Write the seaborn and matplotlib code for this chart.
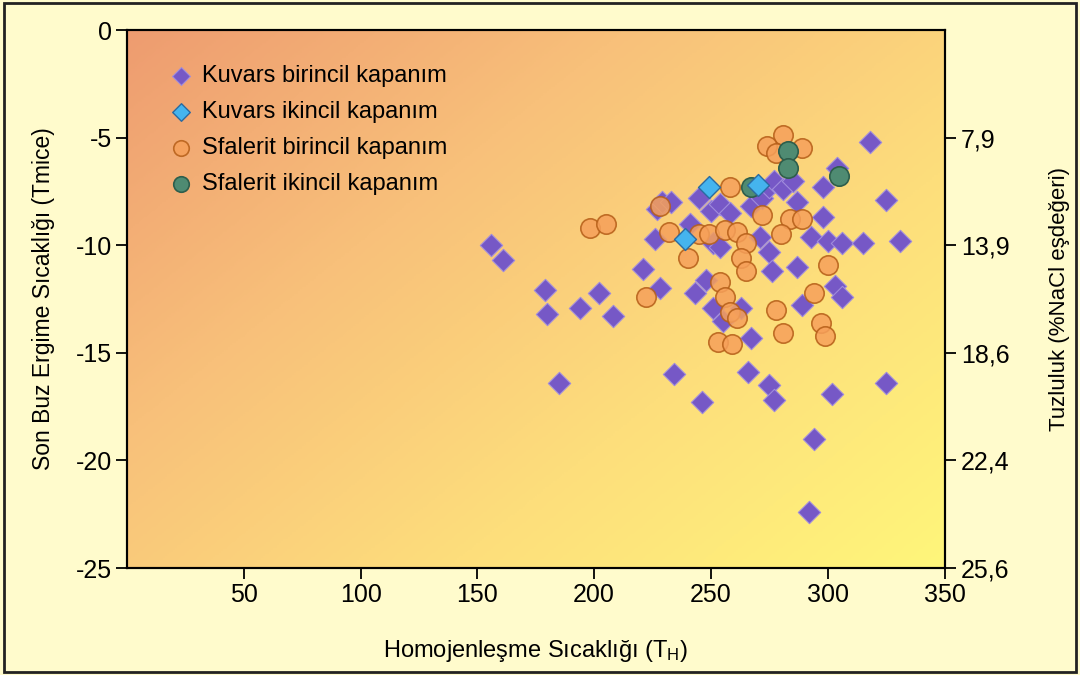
import matplotlib
matplotlib.use('Agg')
import matplotlib.pyplot as plt
import numpy as np
import pandas as pd
import seaborn as sns
from matplotlib.colors import LinearSegmentedColormap
from matplotlib.patches import Rectangle

# --- veriler ---
# Kuvars birincil kapanim
kb_th = [156, 161, 179, 180, 194, 202, 208, 185, 221, 226,
         227, 229, 233, 241, 245, 250, 254, 258, 251, 254,
         267, 272, 275, 271, 275, 276, 248, 228, 243, 251,
         255, 263, 267, 234, 266, 275, 246, 277, 318, 304,
         298, 325, 277, 281, 285, 287, 298, 293, 300, 306,
         315, 331, 287, 303, 306, 289, 302, 325, 294, 292]
kb_tm = [-10.0, -10.7, -12.1, -13.2, -12.9, -12.2, -13.3, -16.4, -11.1, -9.7,
         -8.3, -8.0, -8.0, -9.0, -7.8, -8.4, -8.1, -8.5, -9.9, -10.1,
         -8.2, -7.8, -7.3, -9.6, -10.3, -11.2, -11.6, -12.0, -12.2, -12.9,
         -13.5, -12.9, -14.3, -16.0, -15.9, -16.5, -17.3, -17.2, -5.2, -6.4,
         -7.3, -7.9, -7.0, -7.4, -7.0, -8.0, -8.7, -9.6, -9.8, -9.9,
         -9.9, -9.8, -11.0, -11.9, -12.4, -12.8, -16.9, -16.4, -19.0, -22.4]

# Kuvars ikincil kapanim
ki_th = [249, 239, 270]
ki_tm = [-7.3, -9.7, -7.2]

# Sfalerit birincil kapanim
sb_th = [198, 205, 222, 258, 228, 232, 245, 249, 256, 261,
         265, 263, 265, 240, 272, 254, 256, 258, 261, 253,
         259, 278, 281, 274, 289, 278, 284, 289, 280, 300,
         294, 297, 299, 281]
sb_tm = [-9.2, -9.0, -12.4, -7.3, -8.2, -9.4, -9.5, -9.5, -9.3, -9.4,
         -9.9, -10.6, -11.2, -10.6, -8.6, -11.7, -12.4, -13.1, -13.4, -14.5,
         -14.6, -13.0, -4.9, -5.4, -5.5, -5.7, -8.8, -8.8, -9.5, -10.9,
         -12.2, -13.6, -14.2, -14.1]

# Sfalerit ikincil kapanim
si_th = [283, 283, 305, 267]
si_tm = [-5.6, -6.4, -6.8, -7.3]

# sag eksen: tuzluluk
tm_ticks = [-5, -10, -15, -20, -25]
tuz_labels = ['7,9', '13,9', '18,6', '22,4', '25,6']
x_ticks = [50, 100, 150, 200, 250, 300, 350]
y_ticks = [0, -5, -10, -15, -20, -25]

sns.set_style('ticks')
plt.rcParams['font.family'] = ['Liberation Sans', 'DejaVu Sans']
plt.rcParams['mathtext.default'] = 'regular'
plt.rcParams['axes.unicode_minus'] = False
plt.rcParams['text.color'] = 'black'
plt.rcParams['axes.labelcolor'] = 'black'

fig = plt.figure(figsize=(10.8, 6.75), dpi=100, facecolor='#FFFBCC')
ax = fig.add_axes([0.1176, 0.1585, 0.757, 0.797])

# arka plan gradyani (sol ust turuncu -> sag alt sari)
gx, gy = np.meshgrid(np.linspace(0, 1, 400), np.linspace(0, 1, 250))
grad = gx * 0.55 + gy * 0.45
bg_cmap = LinearSegmentedColormap.from_list(
    'bg', ['#EE9C70', '#F8C07A', '#FDDE7C', '#FFF67A'])
ax.imshow(grad, cmap=bg_cmap, extent=[0, 350, -25, 0], aspect='auto',
          origin='upper', zorder=0)

sns.scatterplot(x=kb_th, y=kb_tm, marker='D', s=130, color='#7658C6',
                edgecolor='#A08CDC', linewidth=0.8, ax=ax, zorder=3,
                label='Kuvars birincil kapanım')
sns.scatterplot(x=ki_th, y=ki_tm, marker='D', s=125, color='#45B4EE',
                edgecolor='#2B6AA0', linewidth=1.0, ax=ax, zorder=6,
                label='Kuvars ikincil kapanım')
sns.scatterplot(x=sb_th, y=sb_tm, marker='o', s=195, color='#F6A05A',
                edgecolor='#B55E18', linewidth=1.2, alpha=0.85, ax=ax, zorder=4,
                label='Sfalerit birincil kapanım')
sns.scatterplot(x=si_th, y=si_tm, marker='o', s=195, color='#4F8B72',
                edgecolor='#2E5E4C', linewidth=1.2, ax=ax, zorder=5,
                label='Sfalerit ikincil kapanım')

ax.set_xlim(0, 350)
ax.set_ylim(-25, 0)
ax.set_xticks(x_ticks)
ax.set_yticks(y_ticks)
ax.tick_params(axis='both', direction='out', length=8, width=1.3,
               labelsize=18, colors='black', pad=3)
for sp in ax.spines.values():
    sp.set_visible(True)
    sp.set_color('black')
    sp.set_linewidth(1.5)

ax.set_xlabel('Homojenleşme Sıcaklığı (T$_{H}$)', fontsize=17, labelpad=22)
ax.set_ylabel('Son Buz Ergime Sıcaklığı (Tmice)', fontsize=16.5, labelpad=15)

leg = ax.legend(loc='upper left', bbox_to_anchor=(0.025, 0.975), frameon=False,
                fontsize=17, handlelength=1.0, handletextpad=0.4,
                labelspacing=0.6, markerscale=0.8, borderpad=0.4)
for t in leg.get_texts():
    t.set_color('black')

ax2 = ax.twinx()
ax2.set_ylim(-25, 0)
ax2.set_yticks(tm_ticks)
ax2.set_yticklabels(tuz_labels)
ax2.tick_params(axis='y', direction='out', length=8, width=1.3,
                labelsize=18, colors='black', pad=4)
ax2.set_ylabel('Tuzluluk (%NaCl eşdeğeri)', fontsize=16, labelpad=28)
ax2.grid(False)
for sp in ax2.spines.values():
    sp.set_color('black')
    sp.set_linewidth(1.5)

fig.add_artist(Rectangle((0.004, 0.004), 0.992, 0.992, transform=fig.transFigure,
                         fill=False, lw=2, ec='#222222'))

plt.savefig('out.png', dpi=100, facecolor=fig.get_facecolor())
plt.close()
